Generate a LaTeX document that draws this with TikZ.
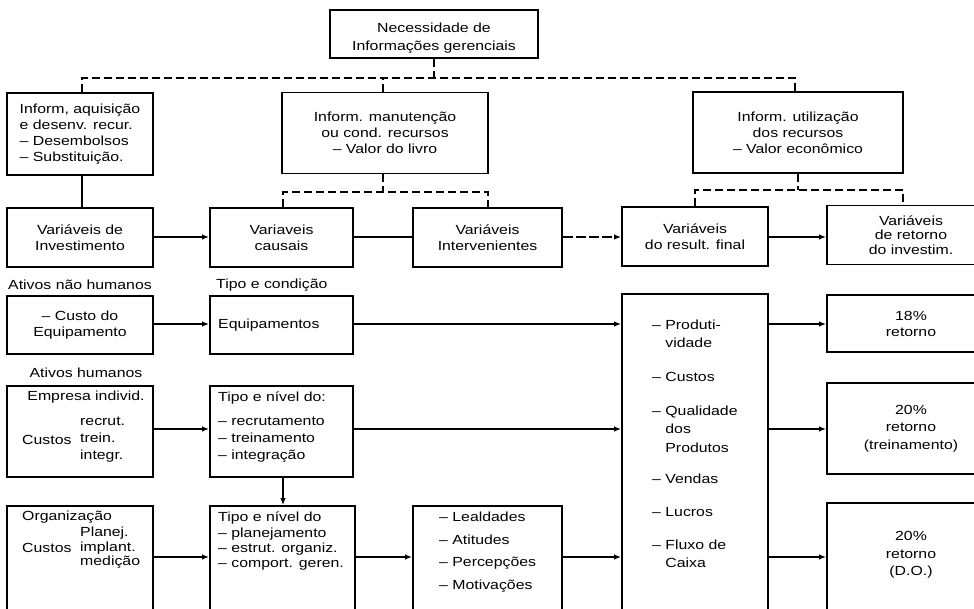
\documentclass[tikz,border=0pt]{standalone}
\usepackage{fontspec}
\setmainfont[FakeStretch=1.2]{Liberation Sans}
\usetikzlibrary{arrows.meta}
\newcommand\dfs{\fontsize{13.2}{16}\selectfont}
\begin{document}
\begin{tikzpicture}[x=1pt,y=-1pt,
  box/.style={draw, line width=1.8pt, inner sep=0pt, align=center, font=\dfs},
  txt/.style={inner sep=0pt, font=\dfs, align=left},
  ln/.style={line width=1.8pt},
  dl/.style={line width=1.8pt, dash pattern=on 8pt off 4pt},
  arr/.style={line width=1.8pt, -{Latex[length=7pt,width=5.5pt]}},
  darr/.style={arr, dash pattern=on 10pt off 3pt}
]
\useasboundingbox (0,0) rectangle (974,609);
\clip (0,0) rectangle (974,609);

% top level
\node[box, minimum width=208pt, minimum height=48pt] (top) at (434,34) {};
\node[txt, align=center, font=\fontsize{13.2}{17.5}\selectfont] (topt) at (434,38) {Necessidade de\\Informações gerenciais};
\node[box, minimum width=146pt, minimum height=82pt, align=left] (b1) at (80,134) {Inform, aquisição\\e desenv. recur.\\– Desembolsos\\– Substituição.};
\node[box, minimum width=206pt, minimum height=81pt] (b2) at (385,133) {Inform. manutenção\\ou cond. recursos\\– Valor do livro};
\node[box, minimum width=210pt, minimum height=81pt] (b3) at (798,132.5) {Inform. utilização\\dos recursos\\– Valor econômico};

% row 2
\node[box, minimum width=146pt, minimum height=59pt] (v1) at (80,237.5) {Variáveis de\\Investimento};
\node[box, minimum width=143pt, minimum height=59pt] (v2) at (281.5,237.5) {Variaveis\\causais};
\node[box, minimum width=149pt, minimum height=59pt] (v3) at (487.5,237.5) {Variáveis\\Intervenientes};
\node[box, minimum width=146pt, minimum height=59pt] (v4) at (695,236.5) {Variáveis\\do result. final};
\node[box, minimum width=168pt, minimum height=59pt, font=\fontsize{13.2}{14.5}\selectfont] (v5) at (911,235) {Variáveis\\de retorno\\do investim.};

% labels
\node[txt] (lab1) at (80,285) {Ativos não humanos};
\node[txt, anchor=west] (lab2) at (216,285) {Tipo e condição};
\node[txt] (lab3) at (86,373) {Ativos humanos};

% row 3
\node[box, minimum width=146pt, minimum height=58pt] (e1) at (80,325) {– Custo do\\Equipamento};
\node[box, minimum width=143pt, minimum height=58pt] (e2) at (281.5,325) {};
\node[txt, anchor=west] (e2t) at (218,325) {Equipamentos};

% big box
\node[box, minimum width=146pt, minimum height=356pt] (big) at (695,472) {};
\node[txt, anchor=west, font=\fontsize{13.2}{18.5}\selectfont] (p1) at (652,334) {– Produti-\\\phantom{– }vidade};
\node[txt, anchor=west] (p2) at (652,377) {– Custos};
\node[txt, anchor=west, font=\fontsize{13.2}{18.5}\selectfont] (p3) at (652,429) {– Qualidade\\\phantom{– }dos\\\phantom{– }Produtos};
\node[txt, anchor=west] (p4) at (652,479) {– Vendas};
\node[txt, anchor=west] (p5) at (652,512) {– Lucros};
\node[txt, anchor=west, font=\fontsize{13.2}{18.5}\selectfont] (p6) at (652,554) {– Fluxo de\\\phantom{– }Caixa};

% right boxes
\node[box, minimum width=168pt, minimum height=57pt] (r1) at (911,323.5) {18\%\\retorno};
\node[box, minimum width=168pt, minimum height=91pt, font=\fontsize{13.2}{17.5}\selectfont] (r2) at (911,428.5) {20\%\\retorno\\(treinamento)};
\node[box, minimum width=168pt, minimum height=147pt] (r3) at (911,576.5) {};
\node[txt, align=center, font=\fontsize{13.2}{17.5}\selectfont] (r3t) at (911,555) {20\%\\retorno\\(D.O.)};

% row 4
\node[box, minimum width=146pt, minimum height=91pt] (h1) at (80,431.5) {};
\node[txt] (h1a) at (86,397) {Empresa individ.};
\node[txt, anchor=west, font=\fontsize{13.2}{17}\selectfont] (h1b) at (80,440) {recrut.\\trein.\\integr.};
\node[txt, anchor=west] (h1c) at (22,440) {Custos};
\node[box, minimum width=143pt, minimum height=91pt] (h2) at (281.5,431.5) {};
\node[txt, anchor=west] (h2a) at (218,398) {Tipo e nível do:};
\node[txt, anchor=west, font=\fontsize{13.2}{17}\selectfont] (h2b) at (218,440) {– recrutamento\\– treinamento\\– integração};

% row 5
\node[box, minimum width=146pt, minimum height=134pt] (o1) at (80,573) {};
\node[txt, anchor=west] (o1a) at (22,517) {Organização};
\node[txt, anchor=west, font=\fontsize{13.2}{14.5}\selectfont] (o1b) at (80,548) {Planej.\\implant.\\medição};
\node[txt, anchor=west] (o1c) at (22,548) {Custos};
\node[box, minimum width=145pt, minimum height=134pt] (o2) at (282.5,573) {};
\node[txt, anchor=west] (o2a) at (218,518) {Tipo e nível do};
\node[txt, anchor=west, font=\fontsize{13.2}{15}\selectfont] (o2b) at (218,549) {– planejamento\\– estrut. organiz.\\– comport. geren.};
\node[box, minimum width=149pt, minimum height=134pt] (l1) at (487.5,573) {};
\node[txt, anchor=west, font=\fontsize{13.2}{22.5}\selectfont] (l1t) at (439,552) {– Lealdades\\– Atitudes\\– Percepções\\– Motivações};

% helper coordinates
\coordinate (busL) at (82,78);
\coordinate (busR) at (795,78);
\coordinate (busM) at (383,78);
\coordinate (brA) at (283,192);
\coordinate (brB) at (488,192);
\coordinate (brM) at (383,192);
\coordinate (brC) at (695,190);
\coordinate (brD) at (903,190);
\coordinate (rowA) at (0,237);
\coordinate (rowB) at (0,324);
\coordinate (rowC) at (0,429);
\coordinate (rowD) at (0,557);
\coordinate (colH) at (283,0);

% dashed tree from top
\draw[dl] (top.south) -- (top.south |- busL);
\draw[dl] (b1.north -| busL) -- (busL) -- (busR) -- (b3.north -| busR);
\draw[dl] (b2.north -| busM) -- (busM);
\draw[ln] (b1.south -| busL) -- (v1.north -| busL);
\draw[dl] (b2.south -| brM) -- (brM);
\draw[dl] (v2.north -| brA) -- (brA) -- (brB) -- (v3.north -| brB);
\draw[dl] (b3.south) -- (b3.south |- brC);
\draw[dl] (v4.north -| brC) -- (brC) -- (brD) -- (v5.north -| brD);

% row 2 connectors
\draw[arr] (v1.east |- rowA) -- (v2.west |- rowA);
\draw[ln] (v2.east |- rowA) -- (v3.west |- rowA);
\draw[darr] (v3.east |- rowA) -- (v4.west |- rowA);
\draw[arr] (v4.east |- rowA) -- (v5.west |- rowA);

% row 3
\draw[arr] (e1.east |- rowB) -- (e2.west |- rowB);
\draw[arr] (e2.east |- rowB) -- (big.west |- rowB);
\draw[arr] (big.east |- rowB) -- (r1.west |- rowB);

% row 4
\draw[arr] (h1.east |- rowC) -- (h2.west |- rowC);
\draw[arr] (h2.east |- rowC) -- (big.west |- rowC);
\draw[arr] (big.east |- rowC) -- (r2.west |- rowC);
\draw[arr] (h2.south -| colH) -- (o2.north -| colH);

% row 5
\draw[arr] (o1.east |- rowD) -- (o2.west |- rowD);
\draw[arr] (o2.east |- rowD) -- (l1.west |- rowD);
\draw[arr] (l1.east |- rowD) -- (big.west |- rowD);
\draw[arr] (big.east |- rowD) -- (r3.west |- rowD);
\end{tikzpicture}
\end{document}
